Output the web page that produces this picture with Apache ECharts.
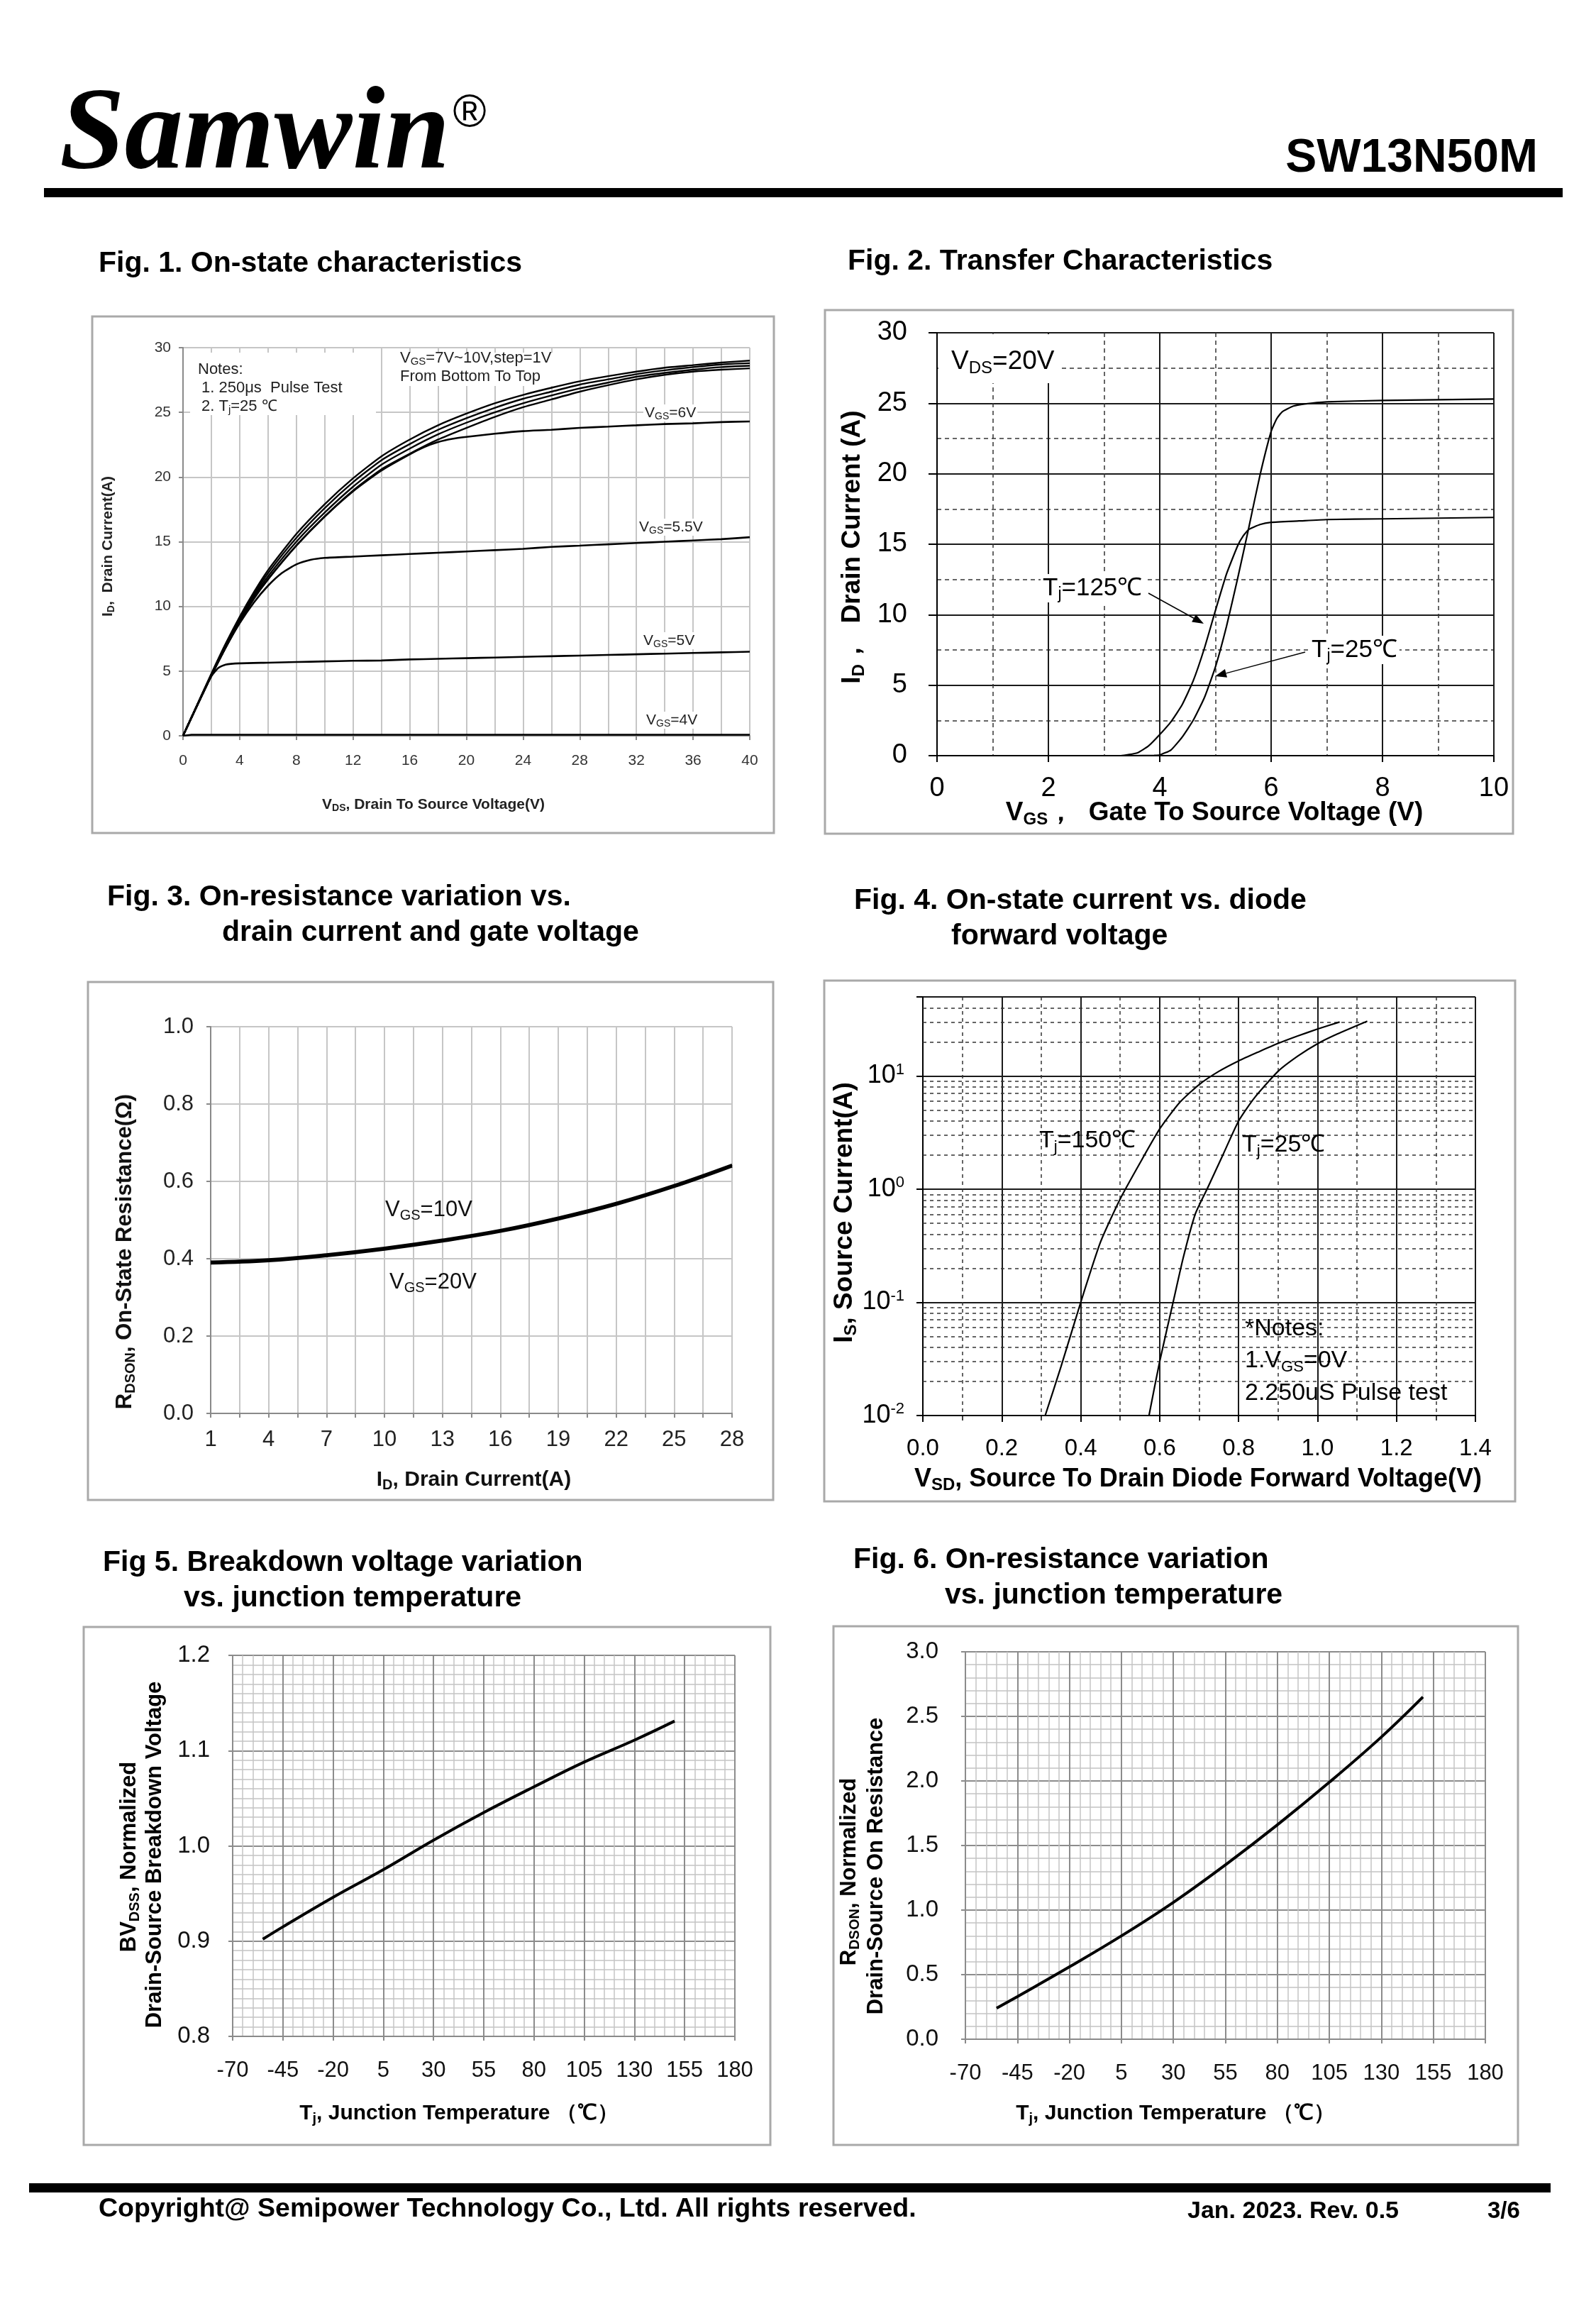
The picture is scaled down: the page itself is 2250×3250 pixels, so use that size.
<!DOCTYPE html>
<html><head><meta charset="utf-8">
<script src="https://cdn.jsdelivr.net/npm/echarts@6/dist/echarts.min.js"></script>
<style>html,body{margin:0;padding:0;background:#fff;}#c{width:2250px;height:3250px;}</style>
</head><body><div id="c"></div>
<script>
const FF = '"Liberation Sans", Arial, Helvetica, sans-serif';
const SERIF = '"Liberation Serif", "Times New Roman", serif';

// ---------------- Fig.1 On-state characteristics (VDS [V], ID [A]) ----------------
const fig1Vgs10 = [[0,0],[1,2.4],[2,4.8],[3,7.1],[4,9.2],[5,11.1],[6,12.8],[8,15.6],[10,17.9],[12,19.9],[14,21.6],[16,22.9],[18,24.0],[20,24.9],[22,25.7],[24,26.35],[26,26.9],[28,27.4],[30,27.8],[32,28.15],[34,28.45],[36,28.65],[38,28.85],[40,29.0]];
const fig1Vgs9  = [[0,0],[1,2.38],[2,4.75],[3,7.0],[4,9.07],[5,10.93],[6,12.57],[8,15.3],[10,17.6],[12,19.6],[14,21.3],[16,22.55],[18,23.65],[20,24.55],[22,25.35],[24,26.05],[26,26.6],[28,27.15],[30,27.55],[32,27.95],[34,28.25],[36,28.5],[38,28.7],[40,28.8]];
const fig1Vgs8  = [[0,0],[1,2.36],[2,4.7],[3,6.9],[4,8.93],[5,10.77],[6,12.33],[8,15.0],[10,17.25],[12,19.25],[14,20.95],[16,22.2],[18,23.3],[20,24.2],[22,25.0],[24,25.7],[26,26.3],[28,26.85],[30,27.3],[32,27.75],[34,28.05],[36,28.3],[38,28.5],[40,28.6]];
const fig1Vgs7  = [[0,0],[1,2.35],[2,4.65],[3,6.8],[4,8.8],[5,10.6],[6,12.1],[8,14.7],[10,16.95],[12,18.95],[14,20.6],[16,21.8],[18,22.9],[20,23.8],[22,24.65],[24,25.4],[26,26.0],[28,26.6],[30,27.1],[32,27.55],[34,27.9],[36,28.15],[38,28.3],[40,28.4]];
const fig1Vgs6  = [[0,0],[1,2.35],[2,4.65],[3,6.8],[4,8.8],[5,10.6],[6,12.1],[8,14.7],[10,16.95],[12,18.9],[14,20.5],[16,21.75],[17,22.3],[18,22.7],[19,22.95],[20,23.1],[22,23.35],[24,23.55],[26,23.65],[28,23.8],[30,23.9],[32,24.0],[34,24.1],[36,24.15],[38,24.25],[40,24.3]];
const fig1Vgs55 = [[0,0],[1,2.35],[2,4.65],[3,6.8],[4,8.7],[5,10.3],[6,11.6],[7,12.6],[8,13.25],[9,13.6],[10,13.75],[12,13.85],[14,13.95],[16,14.05],[18,14.15],[20,14.25],[22,14.35],[24,14.45],[26,14.6],[28,14.7],[30,14.8],[32,14.9],[34,15.0],[36,15.1],[38,15.2],[40,15.35]];
const fig1Vgs5  = [[0,0],[1,2.35],[2,4.6],[2.5,5.25],[3,5.5],[4,5.6],[6,5.65],[8,5.7],[10,5.75],[12,5.8],[14,5.82],[16,5.9],[18,5.95],[20,6.0],[22,6.05],[24,6.1],[26,6.15],[28,6.2],[30,6.25],[32,6.3],[34,6.35],[36,6.4],[38,6.45],[40,6.5]];
const fig1Vgs4  = [[0,0],[0.6,0.08],[40,0.08]];

// ---------------- Fig.2 Transfer characteristics (VGS [V], ID [A]) ----------------
const fig2Tj25  = [[0,0],[3.5,0],[3.9,0.02],[4.0,0.05],[4.2,0.4],[4.4,1.3],[4.6,2.5],[4.8,4.1],[5.0,6.3],[5.2,9.2],[5.4,12.6],[5.6,16.2],[5.8,19.9],[6.0,23.0],[6.1,23.9],[6.2,24.4],[6.4,24.8],[6.6,24.95],[7.0,25.1],[8,25.2],[9,25.25],[10,25.3]];
const fig2Tj125 = [[0,0],[3.3,0],[3.6,0.2],[3.8,0.7],[4.0,1.5],[4.2,2.4],[4.4,3.6],[4.6,5.3],[4.8,7.6],[5.0,10.3],[5.2,12.9],[5.4,14.9],[5.5,15.6],[5.6,16.05],[5.8,16.4],[6.0,16.55],[6.5,16.65],[7,16.75],[8,16.8],[9,16.85],[10,16.9]];

// ---------------- Fig.3 RDS(on) vs ID ----------------
const fig3XTicks   = [1,2.5,4,5.5,7,8.5,10,11.5,13,14.5,16,17.5,19,20.5,22,23.5,25,26.5,28];
const fig3Current  = [1,4,7,10,13,16,19,22,25,28];
const fig3Vgs10    = [0.392,0.398,0.411,0.428,0.449,0.474,0.506,0.544,0.590,0.643];
const fig3Vgs20    = [0.388,0.394,0.407,0.424,0.445,0.470,0.502,0.540,0.586,0.639];

// ---------------- Fig.4 Diode forward (VSD [V], IS [A]) ----------------
const fig4Tj150 = [[0.31,0.01],[0.35,0.027],[0.40,0.1],[0.45,0.34],[0.50,0.82],[0.55,1.7],[0.60,3.4],[0.65,5.8],[0.70,8.4],[0.75,11.0],[0.80,13.6],[0.85,16.3],[0.90,19.4],[0.95,22.6],[1.00,26.0],[1.056,30]];
const fig4Tj25  = [[0.573,0.01],[0.60,0.03],[0.634,0.1],[0.66,0.25],[0.69,0.6],[0.72,1.0],[0.76,2.0],[0.80,4.0],[0.84,6.4],[0.90,11.0],[0.95,15.0],[1.00,19.3],[1.05,23.5],[1.126,30.5]];
const fig4Minor = [0.02,0.03,0.04,0.05,0.06,0.07,0.08,0.09,0.2,0.3,0.4,0.5,0.6,0.7,0.8,0.9,2,3,4,5,6,7,8,9,20,30,40];

// ---------------- Fig.5 / Fig.6 vs junction temperature ----------------
const tempXLabels = [-70,-45,-20,5,30,55,80,105,130,155,180];
const fig5Temp = [-55,-45,-20,5,30,55,80,105,130,150];
const fig5BV   = [0.902,0.915,0.946,0.975,1.006,1.035,1.062,1.088,1.111,1.131];
const fig6Temp = [-55,-45,-20,5,30,55,80,105,130,150];
const fig6Rds  = [0.24,0.33,0.56,0.80,1.06,1.35,1.66,1.99,2.34,2.65];

const zip = (a, b) => a.map((v, i) => [v, b[i]]);

// ---------- rich text helper: _{sub} ^{sup} ----------
function rt(str) {
  const re = /([_^])\{([^}]*)\}/g; let out = '', last = 0, m;
  while ((m = re.exec(str))) {
    if (m.index > last) out += '{n|' + str.slice(last, m.index) + '}';
    out += '{' + (m[1] === '_' ? 's' : 'p') + '|' + m[2] + '}';
    last = re.lastIndex;
  }
  if (last < str.length) out += '{n|' + str.slice(last) + '}';
  return out;
}
function txt(x, y, str, size, o) {
  o = o || {};
  const w = o.bold ? 'bold' : 'normal', col = o.color || '#000', fam = o.family || FF, sty = o.italic ? 'italic' : 'normal';
  const sub = Math.round(size * (o.subScale || 0.66));
  const st = {
    text: rt(str), fontSize: size, fontFamily: fam, fontWeight: w, fontStyle: sty, fill: col,
    align: o.align || 'left', verticalAlign: 'middle',
    rich: {
      n: {fontSize: size, fontFamily: fam, fontWeight: w, fontStyle: sty, fill: col, lineHeight: Math.round(size * 1.15)},
      s: {fontSize: sub, fontFamily: fam, fontWeight: w, fill: col, verticalAlign: 'bottom', lineHeight: sub},
      p: {fontSize: sub, fontFamily: fam, fontWeight: w, fill: col, verticalAlign: 'top', lineHeight: sub}
    }
  };
  if (o.bg) { st.backgroundColor = o.bg; st.padding = o.pad || [2, 4]; }
  return {type: 'text', x: x, y: y, rotation: o.rot || 0, z: 50, silent: true, style: st};
}
function rect(x, y, w, h, style, z) {
  return {type: 'rect', shape: {x: x, y: y, width: w, height: h}, style: style, z: z || 1, silent: true};
}
function arrow(x1, y1, x2, y2) {
  const a = Math.atan2(y2 - y1, x2 - x1), L = 16, W = 6;
  const bx = x2 - L * Math.cos(a), by = y2 - L * Math.sin(a);
  return [
    {type: 'line', shape: {x1: x1, y1: y1, x2: bx, y2: by}, style: {stroke: '#000', lineWidth: 1.5}, z: 50, silent: true},
    {type: 'polygon', shape: {points: [[x2, y2], [bx - W * Math.sin(a), by + W * Math.cos(a)], [bx + W * Math.sin(a), by - W * Math.cos(a)]]}, style: {fill: '#000'}, z: 50, silent: true}
  ];
}

const gfx = [];
// header / footer
gfx.push(txt(84, 193, 'Samwin', 165, {bold: true, italic: true, family: SERIF}));
gfx.push(txt(662, 160, '®', 64, {family: FF, align: 'center'}));
gfx.push(txt(2168, 224, 'SW13N50M', 66, {bold: true, align: 'right'}));
gfx.push(rect(62, 265, 2141, 13, {fill: '#000'}));
gfx.push(rect(41, 3077, 2145, 13, {fill: '#000'}));
gfx.push(txt(139, 3114, 'Copyright@ Semipower Technology Co., Ltd. All rights reserved.', 37.5, {bold: true}));
gfx.push(txt(1674, 3117, 'Jan. 2023. Rev. 0.5', 34, {bold: true}));
gfx.push(txt(2097, 3117, '3/6', 33, {bold: true}));
// frames
[[130,446,961,728],[1163,437,970,738],[124,1384,966,730],[1162,1382,974,734],[118,2293,968,730],[1175,2292,965,731]]
  .forEach(f => gfx.push(rect(f[0], f[1], f[2], f[3], {fill: 'none', stroke: '#a9a9a9', lineWidth: 3})));
// figure titles
gfx.push(txt(139, 372, 'Fig. 1. On-state characteristics', 41, {bold: true}));
gfx.push(txt(1195, 369, 'Fig. 2. Transfer Characteristics', 41, {bold: true}));
gfx.push(txt(151, 1265, 'Fig. 3. On-resistance variation vs.', 41, {bold: true}));
gfx.push(txt(313, 1315, 'drain current and gate voltage', 41, {bold: true}));
gfx.push(txt(1204, 1270, 'Fig. 4. On-state current vs. diode', 41, {bold: true}));
gfx.push(txt(1341, 1320, 'forward voltage', 41, {bold: true}));
gfx.push(txt(145, 2203, 'Fig 5. Breakdown voltage variation', 41, {bold: true}));
gfx.push(txt(259, 2253, 'vs. junction temperature', 41, {bold: true}));
gfx.push(txt(1203, 2199, 'Fig. 6. On-resistance variation', 41, {bold: true}));
gfx.push(txt(1332, 2249, 'vs. junction temperature', 41, {bold: true}));

// Fig.1 annotations
gfx.push(rect(268, 497, 262, 88, {fill: '#fff'}, 5));
gfx.push(rect(562, 497, 222, 47, {fill: '#fff'}, 5));
gfx.push(txt(279, 521, 'Notes:', 22, {color: '#222'}));
gfx.push(txt(284, 547, '1. 250μs  Pulse Test', 22, {color: '#222'}));
gfx.push(txt(284, 573, '2. T_{j}=25 ℃', 22, {color: '#222'}));
gfx.push(txt(564, 505, 'V_{GS}=7V~10V,step=1V', 22, {color: '#222'}));
gfx.push(txt(564, 531, 'From Bottom To Top', 22, {color: '#222'}));
gfx.push(txt(907, 582, 'V_{GS}=6V', 21, {color: '#222', bg: '#fff', pad: [0, 2]}));
gfx.push(txt(899, 743, 'V_{GS}=5.5V', 21, {color: '#222', bg: '#fff', pad: [0, 2]}));
gfx.push(txt(905, 903, 'V_{GS}=5V', 21, {color: '#222', bg: '#fff', pad: [0, 2]}));
gfx.push(txt(909, 1015, 'V_{GS}=4V', 21, {color: '#222', bg: '#fff', pad: [0, 2]}));
gfx.push(txt(152, 770, 'I_{D},  Drain Current(A)', 21, {bold: true, rot: Math.PI / 2, align: 'center', color: '#222'}));
gfx.push(txt(611, 1134, 'V_{DS}, Drain To Source Voltage(V)', 21, {bold: true, align: 'center', color: '#222'}));

// Fig.2 annotations
gfx.push(rect(1323, 471, 174, 69, {fill: '#fff'}, 5));
gfx.push(txt(1341, 510, 'V_{DS}=20V', 37));
gfx.push(txt(1467, 829, 'T_{j}=125℃', 35, {bg: '#fff', pad: [0, 3]}));
gfx.push(txt(1846, 916, 'T_{j}=25℃', 35, {bg: '#fff', pad: [0, 3]}));
arrow(1619, 836, 1697, 879).forEach(e => gfx.push(e));
arrow(1840, 919, 1713, 953).forEach(e => gfx.push(e));
gfx.push(txt(1202, 771, 'I_{D}，  Drain Current (A)', 37, {bold: true, rot: Math.PI / 2, align: 'center'}));
gfx.push(txt(1712, 1146, 'V_{GS}，  Gate To Source Voltage (V)', 37, {bold: true, align: 'center'}));

// Fig.3 annotations
gfx.push(txt(543, 1705, 'V_{GS}=10V', 31, {color: '#111'}));
gfx.push(txt(549, 1807, 'V_{GS}=20V', 31, {color: '#111'}));
gfx.push(txt(176, 1764, 'R_{DSON}, On-State Resistance(Ω)', 31, {bold: true, rot: Math.PI / 2, align: 'center', color: '#111'}));
gfx.push(txt(668, 2086, 'I_{D}, Drain Current(A)', 30, {bold: true, align: 'center', color: '#111'}));

// Fig.4 annotations
gfx.push(txt(1465, 1608, 'T_{j}=150℃', 34));
gfx.push(txt(1751, 1614, 'T_{j}=25℃', 34));
gfx.push(txt(1755, 1873, '*Notes:', 34));
gfx.push(txt(1755, 1918, '1.V_{GS}=0V', 34));
gfx.push(txt(1755, 1964, '2.250uS Pulse test', 34));
gfx.push(txt(1191, 1709, 'I_{S}, Source Current(A)', 37, {bold: true, rot: Math.PI / 2, align: 'center'}));
gfx.push(txt(1689, 2085, 'V_{SD}, Source To Drain Diode Forward Voltage(V)', 36, {bold: true, align: 'center'}));

// Fig.5 annotations
gfx.push(txt(182, 2617, 'BV_{DSS}, Normalized', 31, {bold: true, rot: Math.PI / 2, align: 'center'}));
gfx.push(txt(218, 2614, 'Drain-Source Breakdown Voltage', 31, {bold: true, rot: Math.PI / 2, align: 'center'}));
gfx.push(txt(647, 2979, 'T_{j}, Junction Temperature （℃）', 30, {bold: true, align: 'center'}));
// Fig.6 annotations
gfx.push(txt(1197, 2638, 'R_{DSON}, Normalized', 31, {bold: true, rot: Math.PI / 2, align: 'center'}));
gfx.push(txt(1235, 2630, 'Drain-Source On Resistance', 31, {bold: true, rot: Math.PI / 2, align: 'center'}));
gfx.push(txt(1657, 2979, 'T_{j}, Junction Temperature （℃）', 30, {bold: true, align: 'center'}));

// ---------- axes ----------
function lab(size, color, margin, extra) {
  return Object.assign({fontSize: size, color: color, fontFamily: FF, margin: margin}, extra || {});
}
const grids = [
  {left: 258, top: 490, width: 799, height: 547},
  {left: 1321, top: 469, width: 785, height: 596},
  {left: 297, top: 1447, width: 735, height: 545},
  {left: 1301, top: 1405, width: 779, height: 590},
  {left: 328, top: 2333, width: 708, height: 537},
  {left: 1361, top: 2328, width: 733, height: 546}
];
const gray1 = {color: '#c6c6c6', width: 2};
const majorGrid = {color: '#8c8c8c', width: 2};
const minorGrid = {color: '#c4c4c4', width: 1.5};
const isTempLabel = v => tempXLabels.indexOf(Math.round(v)) >= 0;
function tempAxis(gi) {
  return {gridIndex: gi, type: 'value', min: -70, max: 180, interval: 5,
    axisLine: {onZero: false, lineStyle: {color: '#8a8a8a', width: 2}},
    axisTick: {show: false},
    axisLabel: lab(31, '#111', 33, {formatter: v => isTempLabel(v) ? String(Math.round(v)) : ''}),
    splitLine: {show: true, lineStyle: minorGrid}};
}
// helper axis spanning the same 250 degrees: draws only the darker 25-degree grid lines and ticks
function tempMajorGrid(gi) {
  return {gridIndex: gi, type: 'value', min: 0, max: 250, interval: 25, z: 1, position: 'bottom',
    axisLine: {show: false, onZero: false},
    axisTick: {show: true, length: 6, lineStyle: {color: '#8a8a8a', width: 2}},
    axisLabel: {show: false},
    splitLine: {show: true, lineStyle: majorGrid}};
}
const xAxis = [
  {gridIndex: 0, type: 'value', min: 0, max: 40, interval: 4,
   axisLine: {onZero: false, lineStyle: {color: '#8a8a8a', width: 2}},
   axisTick: {show: true, length: 6, lineStyle: {color: '#8a8a8a', width: 2}},
   minorTick: {show: false, splitNumber: 2},
   axisLabel: lab(21, '#333', 25),
   splitLine: {show: true, lineStyle: gray1},
   minorSplitLine: {show: true, lineStyle: gray1}},
  {gridIndex: 1, type: 'value', min: 0, max: 10, interval: 2,
   axisLine: {onZero: false, lineStyle: {color: '#000', width: 2}},
   axisTick: {show: true, length: 9, lineStyle: {color: '#000', width: 2}},
   axisLabel: lab(38, '#000', 28),
   minorTick: {show: false, splitNumber: 2},
   splitLine: {show: true, lineStyle: {color: '#1a1a1a', width: 2}},
   minorSplitLine: {show: true, lineStyle: {color: '#333', width: 1.5, type: [6, 5]}}},
  {gridIndex: 2, type: 'category', data: fig3XTicks.map(String), boundaryGap: false,
   axisLine: {onZero: false, lineStyle: {color: '#8a8a8a', width: 2}},
   axisTick: {show: true, interval: 0, length: 6, lineStyle: {color: '#8a8a8a', width: 2}},
   axisLabel: lab(31, '#222', 22, {interval: 1}),
   splitLine: {show: true, interval: 0, lineStyle: gray1}},
  {gridIndex: 2, type: 'value', min: 1, max: 28, show: false},
  {gridIndex: 3, type: 'value', min: 0, max: 1.4, interval: 0.2,
   axisLine: {onZero: false, lineStyle: {color: '#000', width: 2}},
   axisTick: {show: true, length: 9, lineStyle: {color: '#000', width: 2}},
   minorTick: {show: true, splitNumber: 2, length: 7, lineStyle: {color: '#000', width: 1.5}},
   axisLabel: lab(33, '#000', 30, {formatter: v => v.toFixed(1)}),
   splitLine: {show: true, lineStyle: {color: '#1a1a1a', width: 2}},
   minorSplitLine: {show: true, lineStyle: {color: '#333', width: 1.5, type: [5, 5]}}},
  tempAxis(4), tempAxis(5), tempMajorGrid(4), tempMajorGrid(5)
];
const yAxis = [
  {gridIndex: 0, type: 'value', min: 0, max: 30, interval: 5,
   axisLine: {show: true, onZero: false, lineStyle: {color: '#8a8a8a', width: 2}},
   axisTick: {show: true, length: 6, lineStyle: {color: '#8a8a8a', width: 2}},
   axisLabel: lab(21, '#333', 17),
   splitLine: {show: true, lineStyle: gray1}},
  {gridIndex: 1, type: 'value', min: 0, max: 30, interval: 5,
   axisLine: {show: true, onZero: false, lineStyle: {color: '#000', width: 2}},
   axisTick: {show: true, length: 12, lineStyle: {color: '#000', width: 2}},
   axisLabel: lab(38, '#000', 42),
   minorTick: {show: false, splitNumber: 2},
   splitLine: {show: true, lineStyle: {color: '#1a1a1a', width: 2}},
   minorSplitLine: {show: true, lineStyle: {color: '#333', width: 1.5, type: [6, 5]}}},
  {gridIndex: 2, type: 'value', min: 0, max: 1, interval: 0.2,
   axisLine: {show: true, onZero: false, lineStyle: {color: '#8a8a8a', width: 2}},
   axisTick: {show: true, length: 6, lineStyle: {color: '#8a8a8a', width: 2}},
   axisLabel: lab(31, '#222', 24, {formatter: v => v.toFixed(1)}),
   splitLine: {show: true, lineStyle: gray1}},
  {gridIndex: 3, type: 'log', logBase: 10, min: 0.01, max: 50,
   axisLine: {show: true, onZero: false, lineStyle: {color: '#000', width: 2}},
   axisTick: {show: true, length: 9, lineStyle: {color: '#000', width: 2}},
   axisLabel: {margin: 26, fontFamily: FF, color: '#000',
     formatter: v => { const e = Math.round(Math.log10(v)); return Math.abs(v / Math.pow(10, e) - 1) < 1e-6 ? '{b|10}{e|' + e + '}' : ''; },
     rich: {b: {fontSize: 36, fontFamily: FF, color: '#000', lineHeight: 40}, e: {fontSize: 22, fontFamily: FF, color: '#000', verticalAlign: 'top', lineHeight: 22}}},
   splitLine: {show: true, lineStyle: {color: '#1a1a1a', width: 2}}},
  {gridIndex: 4, type: 'value', min: 0.8, max: 1.2, interval: 0.1,
   axisLine: {show: true, onZero: false, lineStyle: {color: '#8a8a8a', width: 2}},
   axisTick: {show: true, length: 6, lineStyle: {color: '#8a8a8a', width: 2}},
   axisLabel: lab(33, '#111', 32, {formatter: v => v.toFixed(1)}),
   minorTick: {show: false, splitNumber: 10},
   splitLine: {show: true, lineStyle: majorGrid},
   minorSplitLine: {show: true, lineStyle: minorGrid}},
  {gridIndex: 5, type: 'value', min: 0, max: 3, interval: 0.5,
   axisLine: {show: true, onZero: false, lineStyle: {color: '#8a8a8a', width: 2}},
   axisTick: {show: true, length: 6, lineStyle: {color: '#8a8a8a', width: 2}},
   axisLabel: lab(33, '#111', 38, {formatter: v => v.toFixed(1)}),
   minorTick: {show: false, splitNumber: 5},
   splitLine: {show: true, lineStyle: majorGrid},
   minorSplitLine: {show: true, lineStyle: minorGrid}}
];

function curve(name, data, xi, yi, w, smooth) {
  return {name: name, type: 'line', xAxisIndex: xi, yAxisIndex: yi, data: data, showSymbol: false, symbol: 'none',
    smooth: smooth === undefined ? 0.2 : smooth, z: 8, silent: true,
    lineStyle: {color: '#000', width: w}};
}
function guides(xi, yi, data, style) {
  return {type: 'line', xAxisIndex: xi, yAxisIndex: yi, data: [], z: 1, silent: true,
    markLine: {silent: true, symbol: ['none', 'none'], label: {show: false}, lineStyle: style, animation: false, data: data}};
}
const series = [
  curve('VGS=10V', fig1Vgs10, 0, 0, 2.4), curve('VGS=9V', fig1Vgs9, 0, 0, 2.4),
  curve('VGS=8V', fig1Vgs8, 0, 0, 2.4), curve('VGS=7V', fig1Vgs7, 0, 0, 2.4),
  curve('VGS=6V', fig1Vgs6, 0, 0, 2.6), curve('VGS=5.5V', fig1Vgs55, 0, 0, 2.6),
  curve('VGS=5V', fig1Vgs5, 0, 0, 2.6), curve('VGS=4V', fig1Vgs4, 0, 0, 2.6, false),
  curve('Tj=25', fig2Tj25, 1, 1, 2.2, 0.15), curve('Tj=125', fig2Tj125, 1, 1, 2.2, 0.15),
  curve('VGS=10V', zip(fig3Current, fig3Vgs10), 3, 2, 3.6, 0.4), curve('VGS=20V', zip(fig3Current, fig3Vgs20), 3, 2, 3.6, 0.4),
  guides(4, 3, fig4Minor.map(v => ({yAxis: v})), {color: '#333', width: 1.5, type: [5, 5]}),
  curve('Tj=150', fig4Tj150, 4, 3, 2.2, 0.2), curve('Tj=25', fig4Tj25, 4, 3, 2.2, 0.2),
  curve('BVDSS', zip(fig5Temp, fig5BV), 5, 4, 4, 0.4),
  curve('RDSON', zip(fig6Temp, fig6Rds), 6, 5, 4, 0.4)
];

const chart = echarts.init(document.getElementById('c'), null, {renderer: 'canvas', width: 2250, height: 3250});
chart.setOption({
  animation: false,
  backgroundColor: '#fff',
  textStyle: {fontFamily: FF},
  grid: grids, xAxis: xAxis, yAxis: yAxis, series: series,
  graphic: {elements: gfx}
});
</script></body></html>
